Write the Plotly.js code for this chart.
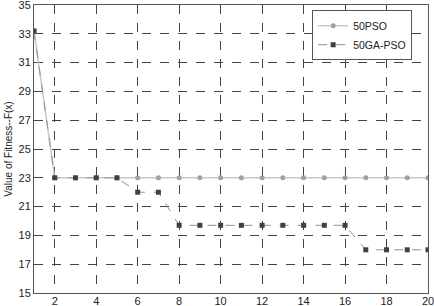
<!DOCTYPE html>
<html><head><meta charset="utf-8">
<script src="https://cdn.plot.ly/plotly-3.0.1.min.js"></script>
<style>html,body{margin:0;padding:0;background:#fff}#c{width:434px;height:306px}</style>
</head><body><div id="c"></div>
<script>
const iterations = [1,2,3,4,5,6,7,8,9,10,11,12,13,14,15,16,17,18,19,20];
const pso = [33.2,23,23,23,23,23,23,23,23,23,23,23,23,23,23,23,23,23,23,23];
const gapso = [33.2,23,23,23,23,22,22,19.7,19.7,19.7,19.7,19.7,19.7,19.7,19.7,19.7,18,18,18,18];
const xTicks = [2,4,6,8,10,12,14,16,18,20];
const yTicks = [15,17,19,21,23,25,27,29,31,33,35];

const FONT = 'Liberation Sans, Arial, sans-serif';
const traces = [
  {x: iterations, y: pso, name: '50PSO', mode: 'lines+markers',
   line: {color: '#c8c8c8', width: 1.5}, marker: {symbol: 'circle', size: 5, color: '#a0a0a0'}},
  {x: iterations, y: gapso, name: '50GA-PSO', mode: 'lines+markers',
   line: {color: '#909090', width: 1, dash: 'dash'}, marker: {symbol: 'square', size: 5, color: '#404040'}}
];
const axisCommon = {showline: true, mirror: true, linecolor: '#555', linewidth: 1,
  showgrid: true, gridcolor: '#444', griddash: 'dash', gridwidth: 1, zeroline: false,
  ticks: '', ticklabeloverflow: 'allow', tickfont: {family: FONT, size: 11, color: '#222'}};
const layout = {
  width: 434, height: 306, margin: {l: 34, r: 6, t: 5, b: 13},
  paper_bgcolor: '#fff', plot_bgcolor: '#fff', showlegend: true,
  xaxis: Object.assign({}, axisCommon, {range: [1, 20], tickvals: xTicks, ticklabelstandoff: -2}),
  yaxis: Object.assign({}, axisCommon, {range: [15, 35], tickvals: yTicks,
    title: {text: 'Value of Fitness--F(x)', standoff: 4, font: {family: FONT, size: 10, color: '#222'}}}),
  legend: {x: 0.706, y: 0.982, xanchor: 'left', yanchor: 'top', bgcolor: '#fff',
    bordercolor: '#555', borderwidth: 1, font: {family: FONT, size: 10.5, color: '#222'},
    tracegroupgap: 0, itemwidth: 30}
};
Plotly.newPlot('c', traces, layout, {staticPlot: true, displayModeBar: false});
</script></body></html>
